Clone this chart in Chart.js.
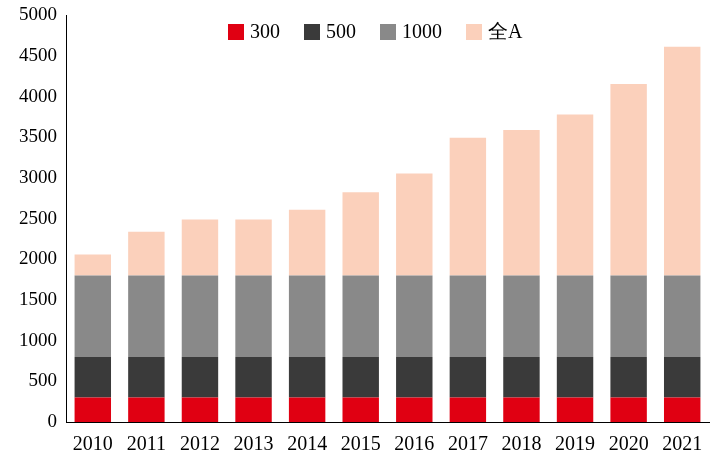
<!DOCTYPE html>
<html><head><meta charset="utf-8">
<script src="https://cdn.jsdelivr.net/npm/chart.js@4/dist/chart.umd.min.js"></script>
<style>html,body{margin:0;background:#fff}#wrap{width:717px;height:471px}</style>
</head><body><div id="wrap"><canvas id="c"></canvas></div>
<script>
// data
const years = ["2010","2011","2012","2013","2014","2015","2016","2017","2018","2019","2020","2021"];
const s300 = [300,300,300,300,300,300,300,300,300,300,300,300];
const s500 = [500,500,500,500,500,500,500,500,500,500,500,500];
const s1000 = [1000,1000,1000,1000,1000,1000,1000,1000,1000,1000,1000,1000];
const sAll = [260,540,690,690,810,1025,1255,1695,1790,1980,2355,2815];
const seriesNames = ["300","500","1000","全A"];
const colors = ["#e00012","#3a3a3a","#898989","#fbd0bb"];

// legend drawn inside the plot area, like the original
const innerLegend = {
  id: "innerLegend",
  afterDraw(chart) {
    const ctx = chart.ctx;
    ctx.save();
    ctx.font = "20px 'Liberation Serif', serif";
    ctx.textBaseline = "middle";
    let x = 228, y = 32;
    seriesNames.forEach((n, i) => {
      ctx.fillStyle = colors[i];
      ctx.fillRect(x, y - 8, 16, 16);
      ctx.fillStyle = "#000";
      ctx.fillText(n, x + 22, y + 1);
      x += 22 + ctx.measureText(n).width + 24;
    });
    ctx.restore();
  }
};

new Chart(document.getElementById("c"), {
  type: "bar",
  data: {
    labels: years,
    datasets: [s300, s500, s1000, sAll].map((d, i) => ({
      label: seriesNames[i], data: d, backgroundColor: colors[i],
      barPercentage: 0.68, categoryPercentage: 1
    }))
  },
  options: {
    responsive: true, maintainAspectRatio: false, animation: false,
    layout: { padding: { top: 2, right: 8, left: 0, bottom: 8 } },
    plugins: { legend: { display: false }, tooltip: { enabled: false } },
    scales: {
      x: { stacked: true, grid: { display: false, drawTicks: true, tickLength: 5 },
           border: { color: "#000" },
           ticks: { color: "#000", font: { family: "'Liberation Serif', serif", size: 20 }, maxRotation: 0, padding: 6 } },
      y: { stacked: true, min: 0, max: 5000,
           afterFit(s) { s.width = 66; },
           grid: { display: false, tickLength: 5 }, border: { color: "#000" },
           ticks: { stepSize: 500, color: "#000", font: { family: "'Liberation Serif', serif", size: 19 }, padding: 4,
                    callback: v => String(v) } }
    }
  },
  plugins: [innerLegend]
});
</script></body></html>
